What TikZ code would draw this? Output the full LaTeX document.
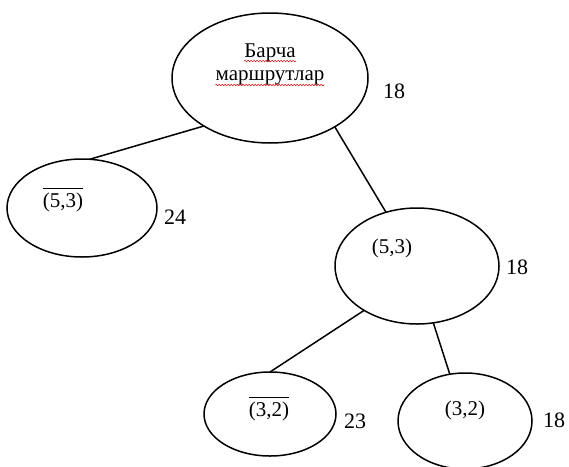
\documentclass[tikz,border=0pt]{standalone}
\usepackage{fontspec}
\setmainfont{Liberation Serif}
\usetikzlibrary{shapes.geometric,decorations.pathmorphing}
\begin{document}
\begin{tikzpicture}[x=1pt,y=-1pt,
  vertex/.style={draw=black,line width=1.5pt,ellipse,inner sep=0pt,outer sep=0pt},
  edge/.style={draw=black,line width=1.5pt},
  intext/.style={inner sep=0pt,anchor=base,font=\fontsize{21}{25}\selectfont},
  cost/.style={inner sep=0pt,anchor=base,font=\fontsize{22}{26}\selectfont},
  spell/.style={draw=red!85!black,line width=0.5pt,decorate,
    decoration={snake,amplitude=0.8pt,segment length=3pt}}]
\useasboundingbox (0,0) rectangle (569,466);
\clip (0,0) rectangle (569,466);

% tree vertices
\node[vertex,minimum width=196pt,minimum height=130pt] (root) at (270,78) {};
\node[vertex,minimum width=150pt,minimum height=98pt] (nleft) at (82,208) {};
\node[vertex,minimum width=164pt,minimum height=116pt] (nmid) at (417,266) {};
\node[vertex,minimum width=132pt,minimum height=84pt] (nbl) at (270,414) {};
\node[vertex,minimum width=134pt,minimum height=96pt] (nbr) at (465,421) {};

% vertex texts
\node[intext] (t1) at (270,57) {Барча};
\node[intext] (t2) at (270,80) {маршрутлар};
\node[intext] (l1) at (63,207) {$\overline{\hbox{\vphantom{(}\smash{(5,3)}}\vphantom{\rule{0pt}{17pt}}}$};
\node[intext] (l2) at (392,253) {(5,3)};
\node[intext] (l3) at (269,416) {$\overline{\hbox{\vphantom{(}\smash{(3,2)}}\vphantom{\rule{0pt}{17pt}}}$};
\node[intext] (l4) at (465,415) {(3,2)};

% spelling marks under the title words
\draw[spell] ([yshift=-4pt]t1.base west) -- ([yshift=-4pt]t1.base east);
\draw[spell] ([yshift=-5pt]t2.base west) -- ([yshift=-5pt]t2.base east);

% bounds
\node[cost] (c1) at (394,98) {18};
\node[cost] (c2) at (175,224) {24};
\node[cost] (c3) at (517,274) {18};
\node[cost] (c4) at (355,428) {23};
\node[cost] (c5) at (554,427) {18};

% branches
\draw[edge] (root.216) -- (nleft.81);
\draw[edge] (root.323) -- (nmid.120);
\draw[edge] (nmid.220) -- (nbl.90);
\draw[edge] (nmid.286) -- (nbr.108);
\end{tikzpicture}
\end{document}
